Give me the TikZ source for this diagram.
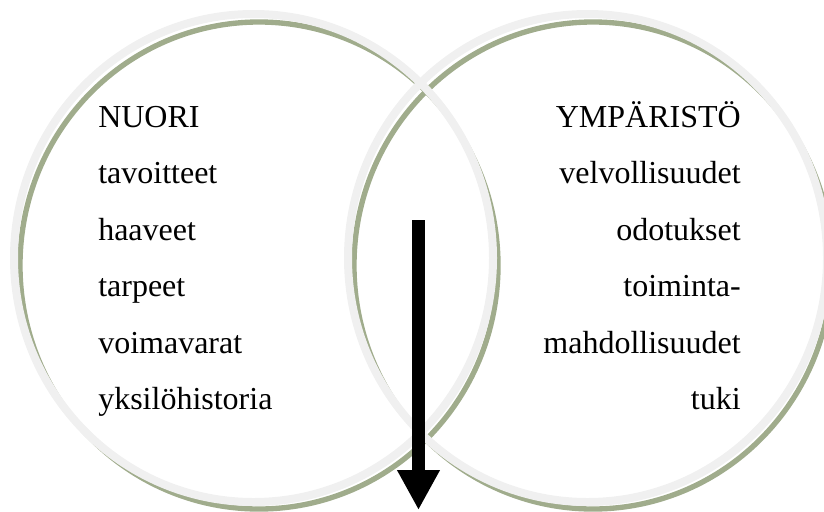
\documentclass[tikz,border=0pt]{standalone}
\usepackage{fontspec}
\setmainfont{Liberation Serif}
\usetikzlibrary{arrows.meta,positioning}
\definecolor{ringgrey}{RGB}{240,240,240}
\definecolor{ringgreen}{RGB}{160,172,140}

\begin{document}
\begin{tikzpicture}[
        x=0.75pt, y=-0.75pt,
        every node/.style={font=\fontsize{24}{28}\selectfont, inner sep=0pt},
        leftitem/.style={anchor=base west},
        rightitem/.style={anchor=base east},
        shadowring/.style={draw=ringgreen, line width=4pt},
        ring/.style={draw=ringgrey, line width=6pt},
        bigarrow/.style={-{Triangle[length=30pt, width=30pt]}, line width=9.75pt, black}
    ]
        \useasboundingbox (0,0) rectangle (824,511);
        \clip (0,0) rectangle (824,511);

        % Circles: green edge slightly offset under a light ring
        \draw[shadowring] (259,265.5) ellipse [x radius=239, y radius=243.5];
        \draw[shadowring] (593,265.5) ellipse [x radius=239, y radius=243.5];
        \draw[ring] (253.5,258) ellipse [x radius=239.5, y radius=244];
        \draw[ring] (587.5,258) ellipse [x radius=239.5, y radius=244];

        % Left side
        \node[leftitem] (nuori) at (98,127) {NUORI};
        \node[leftitem] (tavoitteet) at (98,183.5) {tavoitteet};
        \node[leftitem] (haaveet) at (98,240) {haaveet};
        \node[leftitem] (tarpeet) at (98,296.5) {tarpeet};
        \node[leftitem] (voimavarat) at (98,353) {voimavarat};
        \node[leftitem] (historia) at (98,409.5) {yksilöhistoria};

        % Right side
        \node[rightitem] (ymparisto) at (741,127) {YMPÄRISTÖ};
        \node[rightitem] (velvollisuudet) at (741,183.5) {velvollisuudet};
        \node[rightitem] (odotukset) at (741,240) {odotukset};
        \node[rightitem] (toiminta) at (741,296.5) {toiminta-};
        \node[rightitem] (mahdollisuudet) at (741,353) {mahdollisuudet};
        \node[rightitem] (tuki) at (741,409.5) {tuki};

        % Arrow
        \coordinate (arrowtop) at (418.5,220);
        \coordinate (arrowtip) at (418.5,510);
        \draw[bigarrow] (arrowtop) -- (arrowtip);
    \end{tikzpicture}
\end{document}
